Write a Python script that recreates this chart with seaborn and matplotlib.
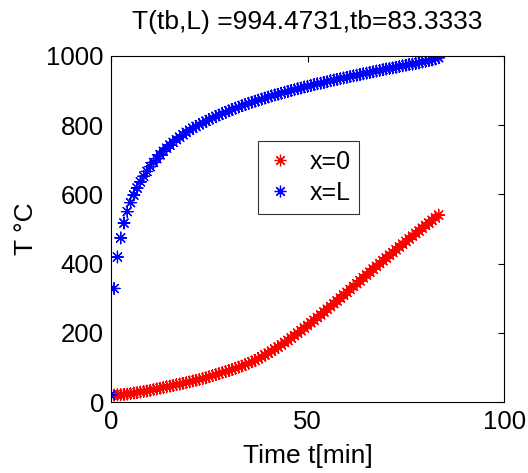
import numpy as np
import pandas as pd
import matplotlib
matplotlib.use("Agg")
import matplotlib.pyplot as plt
import seaborn as sns

sns.set_style("white")
plt.rcParams['font.family'] = ['Liberation Sans', 'DejaVu Sans']
plt.rcParams['text.color'] = 'black'
plt.rcParams['axes.labelcolor'] = 'black'
plt.rcParams['xtick.color'] = 'black'
plt.rcParams['ytick.color'] = 'black'

tb = 83.3333
n_steps = 100
t = np.linspace(0, tb, n_steps + 1)  # time grid, 100 steps up to tb

# temperature at x=0
T_0 = [20, 20, 21, 21, 22, 23, 24, 26, 27, 29,
       31, 32, 34, 36, 38, 40, 42, 44, 46, 48,
       50, 52, 54, 56, 58, 61, 63, 65, 68, 70,
       73, 76, 79, 82, 85, 88, 91, 94, 97, 101,
       104, 108, 112, 116, 120, 125, 130, 136, 141, 147,
       153, 159, 165, 172, 178, 185, 192, 199, 206, 214,
       221, 229, 236, 244, 252, 260, 268, 276, 284, 292,
       300, 309, 317, 325, 334, 342, 350, 359, 367, 375,
       384, 392, 400, 408, 416, 424, 432, 440, 448, 456,
       464, 471, 479, 487, 494, 502, 510, 517, 525, 532,
       540]

# temperature at x=L
T_L = [20, 328, 419, 474, 517, 550, 576, 598, 618, 636,
       652, 666, 680, 692, 703, 714, 724, 733, 742, 750,
       758, 765, 772, 779, 785, 791, 796, 801, 806, 811,
       816, 820, 825, 829, 833, 837, 841, 845, 849, 852,
       856, 859, 863, 866, 869, 872, 875, 878, 881, 884,
       887, 889, 892, 895, 897, 900, 902, 905, 907, 910,
       912, 914, 917, 919, 921, 923, 925, 928, 930, 932,
       934, 936, 938, 940, 942, 944, 946, 948, 950, 952,
       954, 956, 958, 960, 962, 964, 965, 967, 969, 971,
       973, 975, 976, 978, 980, 982, 984, 986, 988, 991,
       994.4731]

series = ["x=0", "x=L"]
colors = {"x=0": "red", "x=L": "blue"}

df = pd.concat([
    pd.DataFrame({"t": t, "T": T_0, "pos": series[0]}),
    pd.DataFrame({"t": t, "T": T_L, "pos": series[1]}),
], ignore_index=True)

fig = plt.figure(figsize=(5.28, 4.73), dpi=100)
ax = fig.add_axes([0.210, 0.150, 0.745, 0.732])

sns.scatterplot(data=df, x="t", y="T", hue="pos", hue_order=series,
                palette=colors, marker=(8, 2, 0), s=70, linewidth=0.9,
                ax=ax, legend=True)

ax.set_xlim(0, 100)
ax.set_ylim(0, 1000)
ax.set_xticks([0, 50, 100])
ax.set_yticks(range(0, 1001, 200))
ax.tick_params(direction="in", top=True, right=True, length=4,
               labelsize=18.5, color="black")
ax.tick_params(axis="x", pad=6)
ax.tick_params(axis="y", pad=5)
for s in ax.spines.values():
    s.set_color("black")
    s.set_linewidth(0.8)

ax.set_xlabel("Time t[min]", fontsize=19, labelpad=7)
ax.set_ylabel("T \u00b0C", fontsize=19, labelpad=6)
ax.set_title(f"T(tb,L) ={T_L[-1]:.4f},tb={tb:.4f}", fontsize=19, pad=19)

leg = ax.legend(loc="upper left", bbox_to_anchor=(0.374, 0.754),
                borderaxespad=0, frameon=True, fancybox=False,
                fontsize=18, handlelength=1.1, handletextpad=0.6,
                borderpad=0.35, labelspacing=0.3, markerscale=1.0)
leg.get_frame().set_edgecolor("black")
leg.get_frame().set_linewidth(0.8)
leg.set_title(None)

fig.savefig("out.png", dpi=100)
